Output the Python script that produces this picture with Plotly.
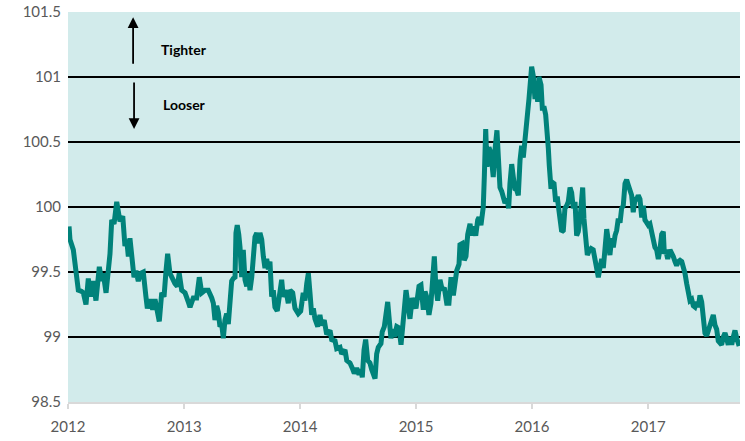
import numpy as np
import pandas as pd
import plotly.graph_objects as go

# Time as years elapsed since 1 Jan 2012
t_years = [
    0.009, 0.017, 0.046, 0.060, 0.075, 0.089, 0.118, 0.132, 0.155, 0.175, 0.196, 0.218, 0.241, 0.253,
    0.270, 0.291, 0.304, 0.328, 0.347, 0.362, 0.377, 0.397, 0.420, 0.434, 0.448, 0.472, 0.483, 0.491,
    0.506, 0.520, 0.534, 0.549, 0.569, 0.586, 0.606, 0.627, 0.649, 0.672, 0.684, 0.707, 0.730, 0.750,
    0.770, 0.787, 0.808, 0.828, 0.845, 0.859, 0.879, 0.908, 0.922, 0.942, 0.959, 0.980, 1.009, 1.037,
    1.052, 1.080, 1.109, 1.132, 1.153, 1.181, 1.209, 1.239, 1.253, 1.267, 1.282, 1.296, 1.310, 1.325,
    1.339, 1.353, 1.368, 1.382, 1.397, 1.411, 1.425, 1.440, 1.448, 1.459, 1.472, 1.483, 1.497, 1.511,
    1.526, 1.541, 1.554, 1.569, 1.584, 1.597, 1.612, 1.627, 1.641, 1.655, 1.670, 1.684, 1.698, 1.713,
    1.727, 1.741, 1.756, 1.770, 1.784, 1.804, 1.828, 1.842, 1.856, 1.879, 1.899, 1.914, 1.937, 1.957,
    1.985, 2.006, 2.028,
    2.043, 2.058, 2.072, 2.086, 2.101, 2.115, 2.129, 2.153, 2.172, 2.187, 2.209, 2.230, 2.259, 2.273,
    2.302, 2.316, 2.345, 2.359, 2.388, 2.403, 2.431, 2.451, 2.468, 2.489, 2.509, 2.526, 2.537, 2.552,
    2.566, 2.584, 2.603, 2.618, 2.647, 2.661, 2.675, 2.698, 2.709, 2.727, 2.739, 2.756, 2.770, 2.784,
    2.796, 2.813, 2.834, 2.853, 2.871, 2.882, 2.899, 2.914, 2.928, 2.948, 2.968, 2.985, 3.000, 3.026,
    3.043, 3.063, 3.078, 3.092, 3.112, 3.129, 3.141, 3.158, 3.172, 3.187, 3.207, 3.227, 3.244, 3.265,
    3.284, 3.302, 3.322, 3.336, 3.351, 3.371, 3.379, 3.399, 3.416, 3.431, 3.446, 3.466, 3.480, 3.494,
    3.515, 3.532, 3.543, 3.560, 3.572, 3.580, 3.589, 3.601, 3.612, 3.629, 3.647, 3.666, 3.681, 3.698,
    3.709, 3.724, 3.739, 3.753, 3.767, 3.784, 3.799, 3.810, 3.825, 3.839, 3.853, 3.868, 3.882, 3.897,
    3.911, 3.925, 3.940, 3.954,
    3.963, 3.974, 3.983, 3.997, 4.011, 4.026, 4.034, 4.049, 4.060, 4.078, 4.089, 4.106, 4.118, 4.127,
    4.141, 4.149, 4.164, 4.175, 4.190, 4.204, 4.218, 4.227, 4.241, 4.256, 4.270, 4.284, 4.299, 4.313,
    4.328, 4.342, 4.356, 4.371, 4.385, 4.399, 4.414, 4.428, 4.437, 4.448, 4.463, 4.477, 4.491, 4.509,
    4.528, 4.543, 4.558, 4.572, 4.586, 4.601, 4.615, 4.629, 4.644, 4.658, 4.672, 4.687, 4.701, 4.716,
    4.730, 4.744, 4.759, 4.773, 4.787, 4.802, 4.816, 4.830, 4.845, 4.859, 4.873, 4.888, 4.903, 4.916,
    4.931, 4.946, 4.960, 4.974, 4.989, 5.003,
    5.017, 5.032, 5.046, 5.060, 5.075, 5.089, 5.103, 5.118, 5.132, 5.141, 5.153, 5.170, 5.190, 5.204,
    5.218, 5.233, 5.247, 5.261, 5.276, 5.291, 5.304, 5.319, 5.334, 5.347, 5.362, 5.377, 5.391, 5.405,
    5.420, 5.434, 5.448, 5.463, 5.477, 5.491, 5.506, 5.520, 5.534, 5.549, 5.563, 5.578, 5.592, 5.606,
    5.621, 5.635, 5.649, 5.664, 5.678, 5.692, 5.707, 5.722, 5.735, 5.750, 5.765, 5.778, 5.786,
]

index_values = [
    99.85, 99.75, 99.67, 99.58, 99.46, 99.36, 99.35, 99.34, 99.25, 99.45, 99.31, 99.43, 99.28, 99.43,
    99.54, 99.43, 99.49, 99.34, 99.49, 99.64, 99.90, 99.87, 100.04, 99.93, 99.89, 99.93, 99.80, 99.70,
    99.75, 99.62, 99.76, 99.61, 99.46, 99.51, 99.43, 99.49, 99.50, 99.31, 99.22, 99.29, 99.21, 99.29,
    99.17, 99.12, 99.34, 99.31, 99.51, 99.64, 99.49, 99.43, 99.41, 99.39, 99.49, 99.36, 99.34, 99.27,
    99.23, 99.30, 99.30, 99.46, 99.34, 99.36, 99.36, 99.30, 99.26, 99.13, 99.24, 99.19, 99.08, 99.10,
    98.99, 99.13, 99.18, 99.10, 99.31, 99.43, 99.45, 99.46, 99.80, 99.86, 99.79, 99.69, 99.46, 99.67,
    99.44, 99.39, 99.49, 99.36, 99.46, 99.67, 99.77, 99.80, 99.72, 99.80, 99.75, 99.62, 99.53, 99.60,
    99.52, 99.58, 99.31, 99.36, 99.23, 99.20, 99.36, 99.44, 99.31, 99.36, 99.26, 99.36, 99.34, 99.22,
    99.18, 99.20, 99.34,
    99.28, 99.41, 99.49, 99.34, 99.17, 99.22, 99.14, 99.08, 99.17, 99.09, 99.13, 99.02, 99.05, 98.98,
    98.97, 98.91, 98.92, 98.87, 98.90, 98.82, 98.80, 98.76, 98.72, 98.76, 98.71, 98.75, 98.69, 98.90,
    98.98, 98.82, 98.80, 98.75, 98.68, 98.87, 98.92, 98.95, 99.04, 99.08, 99.18, 99.27, 99.13, 98.99,
    99.06, 99.00, 99.08, 99.07, 98.94, 99.09, 99.21, 99.36, 99.23, 99.14, 99.30, 99.26, 99.22, 99.39,
    99.40, 99.21, 99.35, 99.31, 99.17, 99.26, 99.41, 99.62, 99.38, 99.28, 99.44, 99.36, 99.38, 99.26,
    99.26, 99.46, 99.32, 99.41, 99.51, 99.56, 99.71, 99.72, 99.59, 99.62, 99.79, 99.87, 99.78, 99.85,
    99.78, 99.90, 99.92, 99.86, 99.97, 100.00, 100.23, 100.60, 100.31, 100.46, 100.41, 100.23, 100.44, 100.59,
    100.40, 100.15, 100.12, 100.06, 100.03, 100.06, 99.99, 100.18, 100.33, 100.23, 100.14, 100.13, 100.09, 100.36,
    100.47, 100.38, 100.49, 100.67,
    100.73, 100.83, 100.94, 101.08, 101.01, 100.83, 100.96, 100.81, 101.00, 100.94, 100.76, 100.76, 100.71, 100.53,
    100.45, 100.32, 100.14, 100.19, 100.18, 100.04, 100.08, 100.01, 99.91, 99.81, 99.82, 99.99, 100.01, 100.04,
    100.15, 100.11, 99.99, 100.04, 99.78, 99.81, 99.91, 100.04, 100.15, 99.91, 99.76, 99.63, 99.66, 99.68,
    99.67, 99.58, 99.55, 99.46, 99.53, 99.60, 99.53, 99.76, 99.83, 99.74, 99.63, 99.76, 99.69, 99.78,
    99.82, 99.91, 99.88, 99.99, 100.01, 100.18, 100.21, 100.17, 100.14, 100.09, 99.96, 100.06, 100.06, 100.09,
    100.06, 99.92, 100.01, 99.90, 99.88, 99.86,
    99.87, 99.81, 99.74, 99.69, 99.67, 99.60, 99.67, 99.79, 99.81, 99.64, 99.67, 99.60, 99.67, 99.65,
    99.62, 99.58, 99.55, 99.58, 99.59, 99.58, 99.54, 99.49, 99.41, 99.36, 99.28, 99.29, 99.24, 99.23,
    99.27, 99.23, 99.32, 99.27, 99.13, 99.03, 99.01, 99.05, 99.09, 99.14, 99.17, 99.09, 99.06, 98.97,
    98.95, 98.94, 99.00, 99.03, 98.99, 98.94, 99.00, 98.94, 99.00, 99.05, 98.99, 98.95, 98.93,
]

year_ticks = ["2012", "2013", "2014", "2015", "2016", "2017"]
y_ticks = [98.5, 99, 99.5, 100, 100.5, 101, 101.5]
y_tick_labels = ["98.5", "99", "99.5", "100", "100.5", "101", "101.5"]

dates = pd.Timestamp("2012-01-01") + pd.to_timedelta(np.array(t_years) * 365.25, unit="D")

fig = go.Figure()
fig.add_trace(go.Scatter(
    x=dates, y=index_values, mode="lines",
    line=dict(color="#00827A", width=5),
    hoverinfo="skip",
))

font_family = "Lato, 'Open Sans', sans-serif"

fig.update_layout(
    width=745, height=441,
    margin=dict(l=68, r=5, t=12, b=39, autoexpand=False),
    paper_bgcolor="white",
    plot_bgcolor="#D2EBEB",
    showlegend=False,
    font=dict(family=font_family, size=15, color="#595959"),
)

fig.update_xaxes(
    type="date",
    range=["2012-01-01", "2017-10-17"],
    tickvals=[f"{y}-01-01" for y in year_ticks],
    ticktext=year_ticks,
    showgrid=False,
    zeroline=False,
    automargin=False,
    showline=True, linecolor="#D9D9D9", linewidth=2,
    ticks="outside", ticklen=5, tickcolor="#D9D9D9", tickwidth=1.5,
    ticklabelstandoff=5,
    tickfont=dict(size=15, color="#595959"),
)
fig.update_yaxes(
    range=[98.5, 101.5],
    tickvals=y_ticks,
    ticktext=y_tick_labels,
    showgrid=True, gridcolor="black", gridwidth=2,
    zeroline=False,
    automargin=False,
    showline=False,
    ticks="", ticklabelstandoff=6,
    tickfont=dict(size=15, color="#595959"),
)

# Direction arrows and labels
fig.add_annotation(
    x="2012-07-24", y=101.46, ax="2012-07-24", ay=101.09,
    xref="x", yref="y", axref="x", ayref="y",
    showarrow=True, arrowhead=2, arrowsize=1.2, arrowwidth=1.8, arrowcolor="black", text="",
)
fig.add_annotation(
    x="2012-07-27", y=100.6, ax="2012-07-27", ay=100.97,
    xref="x", yref="y", axref="x", ayref="y",
    showarrow=True, arrowhead=2, arrowsize=1.2, arrowwidth=1.8, arrowcolor="black", text="",
)
fig.add_annotation(
    x="2013-01-01", y=101.21, xref="x", yref="y", showarrow=False,
    text="<b>Tighter</b>", font=dict(family=font_family, size=14, color="black"),
)
fig.add_annotation(
    x="2013-01-01", y=100.79, xref="x", yref="y", showarrow=False,
    text="<b>Looser</b>", font=dict(family=font_family, size=14, color="black"),
)

fig.write_html(
    "out.html",
    config={"displayModeBar": False},
    post_script="document.body.style.margin='0';document.body.style.overflow='hidden';",
)
